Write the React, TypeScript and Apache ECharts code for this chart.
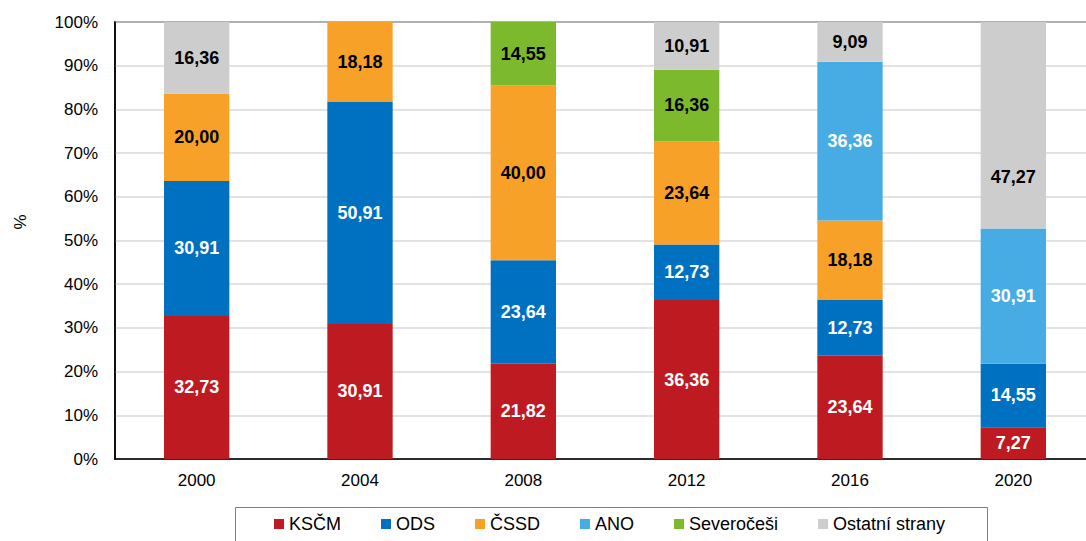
import React, { useEffect, useRef } from "react";
import * as echarts from "echarts";

const years = ["2000", "2004", "2008", "2012", "2016", "2020"];
const kscm = [32.73, 30.91, 21.82, 36.36, 23.64, 7.27];
const ods = [30.91, 50.91, 23.64, 12.73, 12.73, 14.55];
const cssd = [20.0, 18.18, 40.0, 23.64, 18.18, null];
const ano = [null, null, null, null, 36.36, 30.91];
const severocesi = [null, null, 14.55, 16.36, null, null];
const ostatni = [16.36, null, null, 10.91, 9.09, 47.27];
const yTicks = [0, 10, 20, 30, 40, 50, 60, 70, 80, 90, 100];

const FONT = "'Liberation Sans', Arial, sans-serif";

const seriesDefs = [
  { name: "KSČM", data: kscm, color: "#BE1A21", label: "#ffffff" },
  { name: "ODS", data: ods, color: "#0070C0", label: "#ffffff" },
  { name: "ČSSD", data: cssd, color: "#F7A128", label: "#000000" },
  { name: "ANO", data: ano, color: "#47ACE3", label: "#ffffff" },
  { name: "Severočeši", data: severocesi, color: "#7CB92C", label: "#000000" },
  { name: "Ostatní strany", data: ostatni, color: "#CDCDCD", label: "#000000" },
];

export default function App() {
  const ref = useRef<HTMLDivElement>(null);
  useEffect(() => {
    if (!ref.current) return;
    const chart = echarts.init(ref.current, null, { renderer: "svg" });
    chart.setOption({
      animation: false,
      backgroundColor: "#ffffff",
      textStyle: { fontFamily: FONT },
      grid: {
        left: 115,
        right: 1100 - 1095,
        top: 22,
        bottom: 82,
        show: true,
        borderColor: "#000000",
        borderWidth: 1.5,
        containLabel: false,
      },
      legend: {
        left: 274,
        top: 515,
        padding: 0,
        icon: "rect",
        itemWidth: 10,
        itemHeight: 10,
        itemGap: 40,
        textStyle: { fontSize: 18, color: "#000000", fontFamily: FONT },
        data: seriesDefs.map((s) => s.name),
      },
      graphic: [
        {
          type: "rect",
          left: 233,
          top: 505,
          shape: { width: 752, height: 50 },
          style: { fill: "none", stroke: "#7f7f7f", lineWidth: 1 },
          silent: true,
        },
        {
          type: "text",
          x: 20,
          y: 222,
          rotation: Math.PI / 2,
          style: {
            text: "%",
            fontSize: 17,
            fontFamily: FONT,
            fill: "#000000",
            align: "center",
            verticalAlign: "middle",
          },
          silent: true,
        },
      ],
      xAxis: {
        type: "category",
        data: years,
        axisTick: { show: false },
        axisLine: { lineStyle: { color: "#000000", width: 1.5 } },
        axisLabel: { fontSize: 17, color: "#000000", margin: 13, fontFamily: FONT },
      },
      yAxis: {
        type: "value",
        min: yTicks[0],
        max: yTicks[yTicks.length - 1],
        interval: 10,
        axisLine: { show: true, lineStyle: { color: "#000000", width: 1.5 } },
        axisTick: { show: false },
        axisLabel: {
          fontSize: 17,
          color: "#000000",
          margin: 17,
          fontFamily: FONT,
          formatter: (v: number) => `${v}%`,
        },
        splitLine: { lineStyle: { color: "#d9d9d9", width: 1.5 } },
      },
      series: seriesDefs.map((s, si) => ({
        name: s.name,
        type: "bar",
        stack: "total",
        barWidth: "40%",
        data: s.data.map((v, i) =>
          si === 5 && i === 5 ? { value: v, label: { offset: [0, 52] } } : v
        ),
        itemStyle: { color: s.color },
        label: {
          show: true,
          position: "inside",
          color: s.label,
          fontSize: 18,
          fontWeight: "bold",
          fontFamily: FONT,
          formatter: (p: any) =>
            p.value == null ? "" : Number(p.value).toFixed(2).replace(".", ","),
        },
      })),
    });
    return () => chart.dispose();
  }, []);
  return (
    <div
      style={{
        position: "fixed",
        left: 0,
        top: 0,
        width: 1086,
        height: 541,
        overflow: "hidden",
      }}
    >
      <div ref={ref} style={{ width: 1100, height: 541 }} />
    </div>
  );
}
